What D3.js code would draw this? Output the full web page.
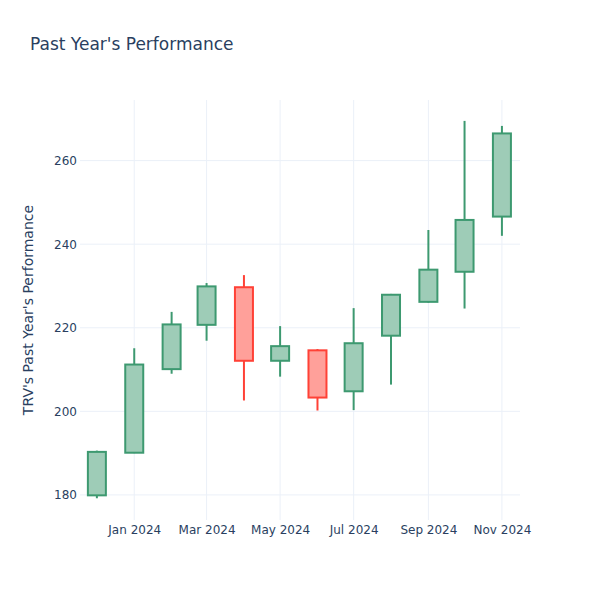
<!DOCTYPE html>
<html>
<head>
<meta charset="utf-8">
<script src="https://cdn.jsdelivr.net/npm/d3@7"></script>
<style>
  body { margin: 0; background: #fff; }
  text { font-family: "DejaVu Sans", "Open Sans", sans-serif; fill: #2a3f5f; }
</style>
</head>
<body>
<svg id="chart" width="600" height="600"></svg>
<script>
const dates  = ["2023-12-01","2024-01-01","2024-02-01","2024-03-01","2024-04-01","2024-05-01",
                "2024-06-01","2024-07-01","2024-08-01","2024-09-01","2024-10-01","2024-11-01"];
const opens  = [179.9, 190.1, 210.1, 220.7, 229.7, 212.1, 214.6, 204.8, 218.1, 226.2, 233.4, 246.6];
const highs  = [190.6, 215.1, 223.8, 230.7, 232.6, 220.4, 214.9, 224.7, 228.1, 243.4, 269.5, 268.3];
const lows   = [179.2, 190.0, 209.0, 216.9, 202.6, 208.3, 200.2, 200.3, 206.4, 226.0, 224.6, 242.0];
const closes = [190.3, 211.2, 220.8, 229.9, 212.1, 215.6, 203.3, 216.3, 227.9, 233.9, 245.8, 266.5];
const yTicks = [180, 200, 220, 240, 260];
const xTickDates = ["2024-01-01","2024-03-01","2024-05-01","2024-07-01","2024-09-01","2024-11-01"];
const titleText = "Past Year's Performance";
const yTitle = "TRV's Past Year's Performance";

const parse = d3.utcParse("%Y-%m-%d");
const data = dates.map((d, i) => ({date: parse(d), open: opens[i], high: highs[i], low: lows[i], close: closes[i]}));

const svg = d3.select("#chart");
const m = {l: 80, r: 80, t: 100, b: 80};
const W = 600, H = 600;

const x = d3.scaleUtc()
  .domain([parse("2023-11-17"), parse("2024-11-16")])
  .range([m.l, W - m.r]);
const y = d3.scaleLinear()
  .domain([174.0, 274.5])
  .range([H - m.b, m.t]);

// gridlines
const g = svg.append("g");
g.selectAll(".vg").data(xTickDates.map(parse)).join("line")
  .attr("x1", d => x(d)).attr("x2", d => x(d))
  .attr("y1", m.t).attr("y2", H - m.b)
  .attr("stroke", "#EBF0F8").attr("stroke-width", 1);
g.selectAll(".hg").data(yTicks).join("line")
  .attr("x1", m.l).attr("x2", W - m.r)
  .attr("y1", d => y(d)).attr("y2", d => y(d))
  .attr("stroke", "#EBF0F8").attr("stroke-width", 1);

// axes
const xAxis = d3.axisBottom(x).tickValues(xTickDates.map(parse))
  .tickFormat(d3.utcFormat("%b %Y")).tickSize(0).tickPadding(5);
const gx = svg.append("g").attr("transform", `translate(0,${H - m.b})`).call(xAxis);
gx.select(".domain").remove();
gx.selectAll("text").style("font-size", "12px").attr("fill", "#2a3f5f");

const yAxis = d3.axisLeft(y).tickValues(yTicks).tickSize(0).tickPadding(3);
const gy = svg.append("g").attr("transform", `translate(${m.l},0)`).call(yAxis);
gy.select(".domain").remove();
gy.selectAll("text").style("font-size", "12px").attr("fill", "#2a3f5f");

// candles
const incColor = "#3D9970", decColor = "#FF4136";
const halfW = 9;
const cg = svg.append("g");
const candle = cg.selectAll("g.c").data(data).join("g");
candle.append("line")
  .attr("x1", d => x(d.date)).attr("x2", d => x(d.date))
  .attr("y1", d => y(d.high)).attr("y2", d => y(d.low))
  .attr("stroke", d => d.close >= d.open ? incColor : decColor)
  .attr("stroke-width", 2);
candle.append("rect")
  .attr("x", d => x(d.date) - halfW)
  .attr("width", halfW * 2)
  .attr("y", d => y(Math.max(d.open, d.close)))
  .attr("height", d => Math.abs(y(d.open) - y(d.close)))
  .attr("fill", d => d.close >= d.open ? "#9ECCB7" : "#FFA09A")
  .attr("stroke", d => d.close >= d.open ? incColor : decColor)
  .attr("stroke-width", 2);

// titles
svg.append("text").attr("x", 30).attr("y", 50)
  .style("font-size", "17px").text(titleText);
svg.append("text")
  .attr("transform", `translate(33,${(m.t + H - m.b) / 2}) rotate(-90)`)
  .attr("text-anchor", "middle")
  .style("font-size", "14px").text(yTitle);
</script>
</body>
</html>
